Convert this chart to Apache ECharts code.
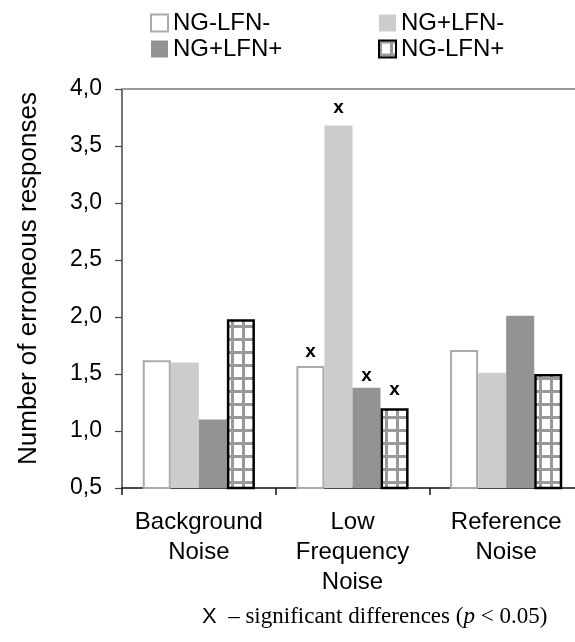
<!DOCTYPE html>
<html>
<head>
<meta charset="utf-8">
<script src="https://cdn.jsdelivr.net/npm/echarts@6/dist/echarts.min.js"></script>
<style>html,body{margin:0;padding:0;background:#fff;overflow:hidden;width:575px;height:642px;}#c{width:583px;height:642px;}</style>
</head>
<body>
<div id="c"></div>
<script>
const categories = ['Background\nNoise', 'Low\nFrequency\nNoise', 'Reference\nNoise'];
const seriesNames = ['NG-LFN-', 'NG+LFN-', 'NG+LFN+', 'NG-LFN+'];
const ngMinusLfnMinus = [1.62, 1.57, 1.71];
const ngPlusLfnMinus = [1.60, 3.68, 1.51];
const ngPlusLfnPlus = [1.10, 1.38, 2.01];
const ngMinusLfnPlus = [1.98, 1.20, 1.50];
// significance marks: [seriesIndex, categoryIndex]
const significant = [[0, 1], [1, 1], [2, 1], [3, 1]];
const yTicks = { min: 0.5, max: 4.0, interval: 0.5 };

const FONT = 'Liberation Sans, Arial, Helvetica, sans-serif';
const SERIF = 'Liberation Serif, Times New Roman, serif';

const hatch = document.createElement('canvas');
hatch.width = 11; hatch.height = 13;
(function () {
  const g = hatch.getContext('2d');
  g.fillStyle = '#ffffff'; g.fillRect(0, 0, 11, 13);
  g.fillStyle = '#999999';
  g.fillRect(0, 0, 3, 13);
  g.fillRect(0, 0, 11, 3);
})();

const styles = [
  { color: '#ffffff', borderColor: '#aaaaaa', borderWidth: 2 },
  { color: '#cccccc' },
  { color: '#939393' },
  { color: { image: hatch, repeat: 'repeat' }, borderColor: '#000000', borderWidth: 2.5 }
];
const values = [ngMinusLfnMinus, ngPlusLfnMinus, ngPlusLfnPlus, ngMinusLfnPlus];
const markDist = [5, 8, 2, 9];

const series = values.map((vals, si) => ({
  name: seriesNames[si],
  type: 'bar',
  barGap: '0%',
  barCategoryGap: '27%',
  itemStyle: styles[si],
  emphasis: { disabled: true },
  data: vals.map((v, ci) => {
    const sig = significant.some(p => p[0] === si && p[1] === ci);
    const d = { value: v };
    if (sig) {
      d.label = {
        show: true, position: 'top', distance: markDist[si], formatter: 'x',
        fontFamily: FONT, fontWeight: 'bold', fontSize: 19, color: '#000'
      };
    }
    return d;
  })
}));

const legendCommon = {
  orient: 'vertical', itemWidth: 17, itemHeight: 17, itemGap: 2, itemTextGap: 7,
  icon: 'rect', selectedMode: false,
  textStyle: { fontFamily: FONT, fontSize: 24, color: '#000', lineHeight: 22 }
};

const chart = echarts.init(document.getElementById('c'), null, { renderer: 'canvas' });
chart.setOption({
  animation: false,
  backgroundColor: '#ffffff',
  legend: [
    Object.assign({ left: 145, top: 6, data: [seriesNames[0], seriesNames[2]] }, legendCommon),
    Object.assign({ left: 373, top: 6, data: [seriesNames[1], seriesNames[3]] }, legendCommon)
  ],
  grid: { left: 122, top: 89, bottom: 154, right: 0, containLabel: false },
  xAxis: [
    {
      type: 'category', data: categories,
      axisLine: { show: true, lineStyle: { color: '#111', width: 1.5 } },
      axisTick: { show: true, length: 7, lineStyle: { color: '#111', width: 1.5 } },
      axisLabel: { fontFamily: FONT, fontSize: 24, color: '#000', lineHeight: 30, margin: 19, interval: 0 }
    },
    {
      type: 'category', data: categories, position: 'top',
      axisLine: { show: true, lineStyle: { color: '#999', width: 2 } },
      axisTick: { show: false }, axisLabel: { show: false }
    }
  ],
  yAxis: {
    type: 'value', min: yTicks.min, max: yTicks.max, interval: yTicks.interval,
    axisLine: { show: true, lineStyle: { color: '#444', width: 1.5 } },
    axisTick: { show: true, length: 7, lineStyle: { color: '#444', width: 1.2 } },
    splitLine: { show: false },
    axisLabel: {
      fontFamily: FONT, fontSize: 23, color: '#000', margin: 20,
      formatter: v => v.toFixed(1).replace('.', ',')
    },
    name: 'Number of erroneous responses',
    nameLocation: 'middle', nameGap: 80,
    nameTextStyle: { fontFamily: FONT, fontSize: 26, color: '#000', padding: [0, 0, 0, 20] }
  },
  graphic: [
    {
      type: 'text', left: 202, top: 605,
      style: {
        text: '{s|X}{r|  – significant differences (}{i|p}{r| < 0.05)}',
        rich: {
          s: { fontFamily: FONT, fontSize: 22, fill: '#000' },
          r: { fontFamily: SERIF, fontSize: 23, fill: '#000' },
          i: { fontFamily: SERIF, fontSize: 23, fontStyle: 'italic', fill: '#000' }
        }
      }
    }
  ],
  series: series
});
</script>
</body>
</html>
